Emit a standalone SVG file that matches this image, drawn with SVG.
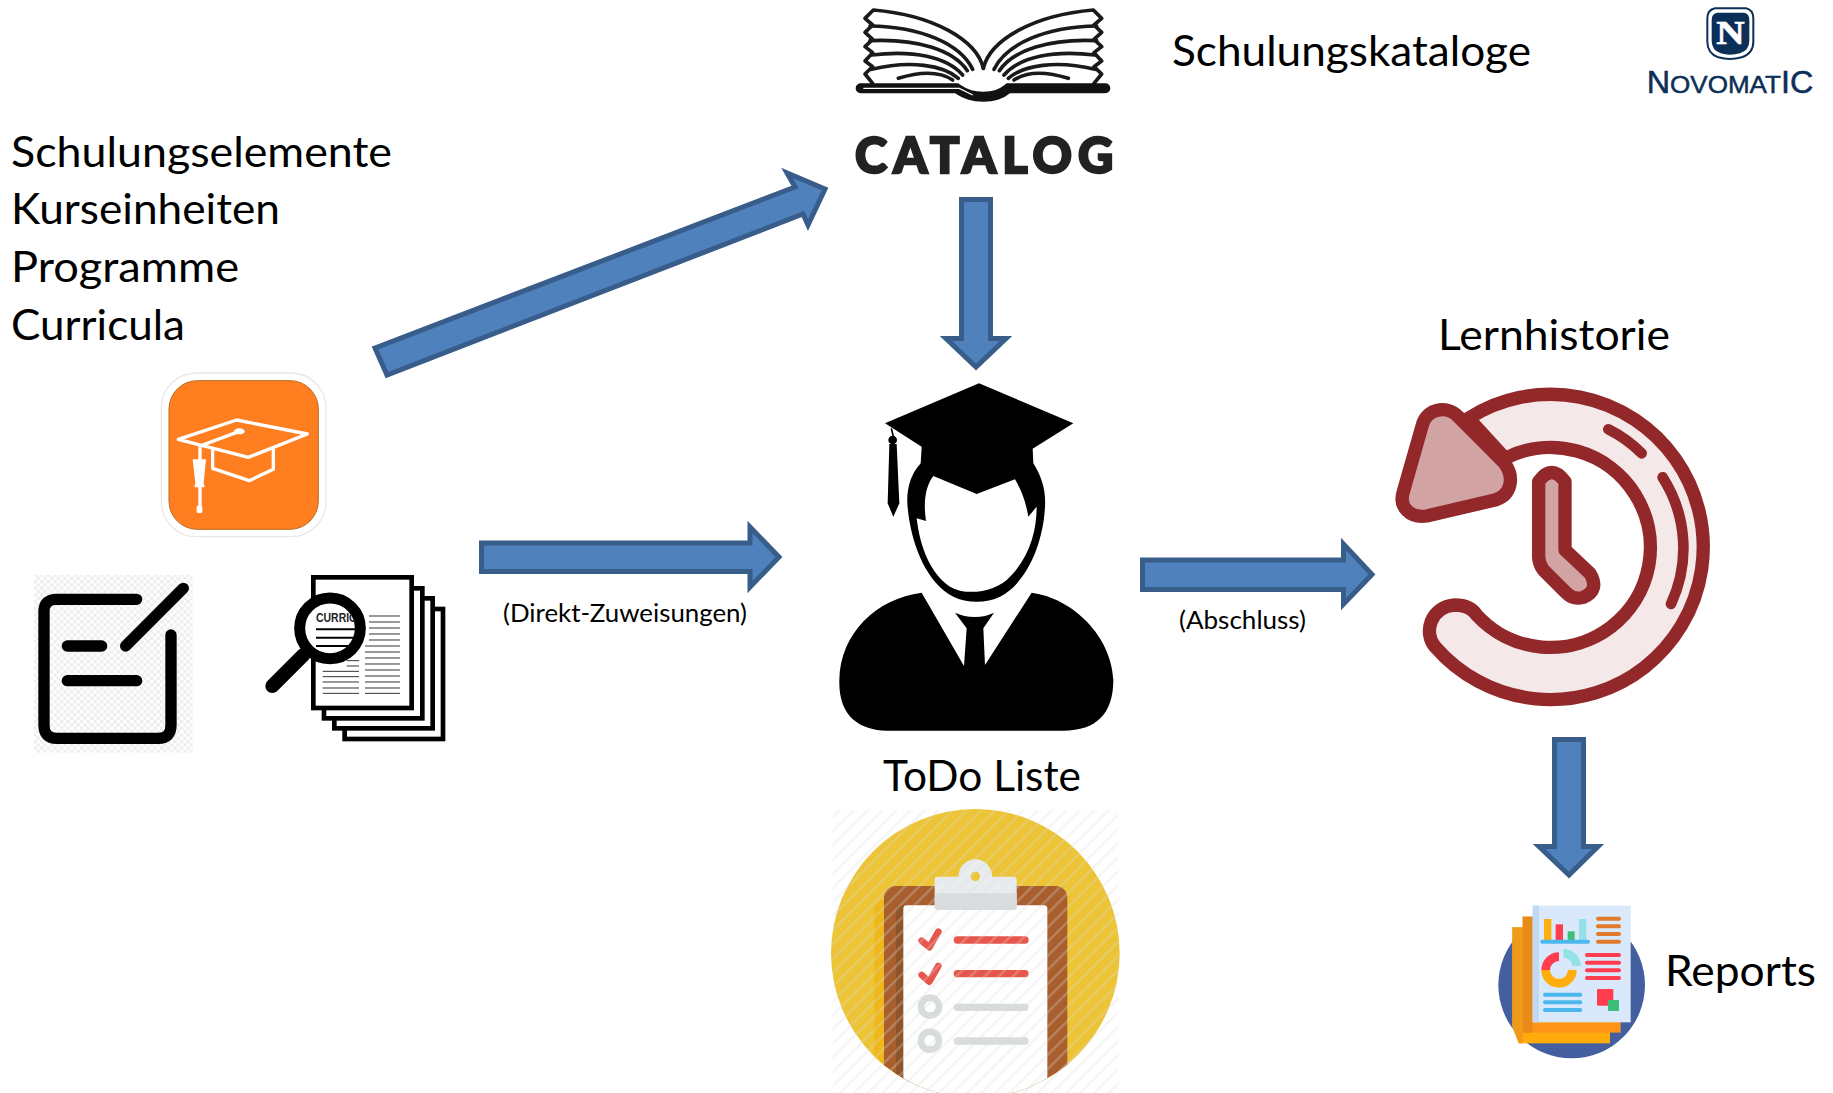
<svg xmlns="http://www.w3.org/2000/svg" xmlns:xlink="http://www.w3.org/1999/xlink" width="1833" height="1093" viewBox="0 0 1833 1093">
<style>
text{font-family:"Lato","Carlito","Liberation Sans",sans-serif;fill:#000}
.lg{font-size:43px}
.sm{font-size:25px}
.arrow{fill:#4f81bd;stroke:#385d8a;stroke-width:5;stroke-linejoin:miter}
.pg{fill:none;stroke:#1a1a1a;stroke-width:11;stroke-linecap:round;stroke-linejoin:round}
.doc{fill:#fff;stroke:#000;stroke-width:14}
.hatch{stroke:#333;stroke-width:3}
.ck{fill:none;stroke:#000;stroke-width:34;stroke-linecap:round;stroke-linejoin:round}
.red{stroke:#92282a;stroke-width:40;stroke-linejoin:round;stroke-linecap:round}
.dash{fill:none;stroke:#92282a;stroke-width:32;stroke-linecap:round}
.w{fill:none;stroke:#fff;stroke-width:10;stroke-linejoin:round;stroke-linecap:round}
.rpt{fill:none;stroke-width:12;stroke-linecap:round}
</style>
<defs>
<pattern id="checker" width="20" height="20" patternUnits="userSpaceOnUse"><rect width="20" height="20" fill="#fff"/><rect width="10" height="10" fill="#eee"/><rect x="10" y="10" width="10" height="10" fill="#eee"/></pattern>
<pattern id="stripes" width="30" height="30" patternUnits="userSpaceOnUse" patternTransform="rotate(45)"><rect width="7" height="30" fill="#ddd" fill-opacity=".3"/></pattern>
<clipPath id="todoClip"><circle cx="466" cy="460" r="433"/></clipPath>
<clipPath id="lensClip"><circle cx="930" cy="805" r="78"/></clipPath>
<clipPath id="rptClip"><path d="M0 0H520V520H140L97 410Z"/></clipPath>
<g id="bookSide">
<path class="pg" d="M490 205C470 120 340 45 160 30L135 55L158 75L135 97L158 118L135 140L158 158L135 183L158 200L135 222L158 250"/>
<path class="pg" d="M458 208C420 130 300 80 150 78"/>
<path class="pg" d="M442 212C400 150 290 115 150 122"/>
<path class="pg" d="M428 225C380 170 280 150 155 165"/>
<path class="pg" d="M415 235C370 195 270 180 155 208"/>
<path class="pg" d="M398 240C360 215 300 215 235 235"/>
</g>
</defs>
<rect width="1833" height="1093" fill="#fff"/>

<g id="connectors">
<polygon class="arrow" points="375,348 795,187 787,173 825,189 808,225 803,214 387,375"/>
<polygon class="arrow" points="961.5,199.5 990.5,199.5 990.5,338.5 1006,338.5 976,367 946,338.5 961.5,338.5"/>
<polygon class="arrow" points="481.5,543 750,543 750,527 779,557 750,587 750,571.5 481.5,571.5"/>
<polygon class="arrow" points="1142.5,560 1343.5,560 1343.5,544 1372,574.5 1343.5,604 1343.5,589.5 1142.5,589.5"/>
<polygon class="arrow" points="1554.5,739.5 1583.5,739.5 1583.5,846.5 1598,846.5 1569,875 1539,846.5 1554.5,846.5"/>
<text class="sm" x="503" y="622" textLength="244" lengthAdjust="spacingAndGlyphs">(Direkt-Zuweisungen)</text>
<text class="sm" x="1179" y="629" textLength="127" lengthAdjust="spacingAndGlyphs">(Abschluss)</text>
</g>

<g id="elements-label">
<text class="lg" x="11" y="167" textLength="381" lengthAdjust="spacingAndGlyphs">Schulungselemente</text>
<text class="lg" x="11" y="224" textLength="269" lengthAdjust="spacingAndGlyphs">Kurseinheiten</text>
<text class="lg" x="11" y="282" textLength="228" lengthAdjust="spacingAndGlyphs">Programme</text>
<text class="lg" x="11" y="340" textLength="174" lengthAdjust="spacingAndGlyphs">Curricula</text>
</g>

<g id="catalog" transform="translate(820 0) scale(.33333)">
<use href="#bookSide"/>
<use href="#bookSide" transform="translate(980 0) scale(-1 1)"/>
<path d="M122 265H410C440 285 460 290 490 290C520 290 540 285 565 265H856" fill="none" stroke="#111" stroke-width="30" stroke-linecap="round"/>
<path d="M130 265H418L458 285" fill="none" stroke="#fff" stroke-width="4"/>
<text x="105" y="518" font-size="146" font-weight="900" textLength="775" lengthAdjust="spacing" style="fill:#222;stroke:#222;stroke-width:7">CATALOG</text>
</g>
<g id="catalog-label"><text class="lg" x="1172" y="66" textLength="359" lengthAdjust="spacingAndGlyphs">Schulungskataloge</text></g>

<g id="novomatic" transform="translate(1600 0) scale(.33333)">
<path d="M345 25H438Q460 30 460 55V125Q460 160 425 172Q390 182 355 172Q322 160 322 125V55Q322 30 345 25Z" fill="#fff" stroke="#0c2f57" stroke-width="6"/>
<path d="M352 38H432Q448 40 448 60V122Q448 150 420 160Q390 168 362 160Q335 150 335 122V60Q335 40 352 38Z" fill="#0c2f57"/>
<text x="349" y="131" font-size="98" font-weight="700" textLength="85" lengthAdjust="spacingAndGlyphs" style="font-family:'Liberation Serif',serif;fill:#fff;stroke:#fff;stroke-width:2">N</text>
<text x="140" y="279" font-size="74" font-weight="400" textLength="500" lengthAdjust="spacingAndGlyphs" style="font-family:'Liberation Sans',sans-serif;fill:#0c2f57;stroke:#0c2f57;stroke-width:1.5"><tspan font-size="92">N</tspan>OVOMAT<tspan font-size="92">IC</tspan></text>
</g>

<g id="cap-app" transform="translate(20 360) scale(.33333)">
<rect x="424" y="39" width="494" height="491" rx="105" fill="#fff" stroke="#e8e8e8" stroke-width="4"/>
<rect x="447" y="62" width="448" height="446" rx="85" fill="#ff7f20" stroke="#b86a20" stroke-width="3"/>
<polygon class="w" points="475,238 650,180 862,222 685,292"/>
<path class="w" d="M578 272V325L688 362L760 328V270"/>
<path class="w" stroke-width="6" d="M540 258L658 214"/>
<ellipse cx="658" cy="214" rx="16" ry="9" fill="#fff"/>
<path class="w" d="M540 262V300M540 380V440"/>
<path d="M518 298H558L551 368L554 382H523L526 368Z" fill="#fff"/>
<rect x="530" y="437" width="17" height="22" rx="4" fill="#fff"/>
</g>

<g id="notepad" transform="translate(20 360) scale(.33333)">
<rect x="42" y="645" width="476" height="533" fill="url(#checker)"/>
<path class="ck" d="M350 718H110Q72 718 72 755V1095Q72 1135 110 1135H415Q453 1135 453 1095V825"/>
<path class="ck" d="M317 858L490 685M142 858H245M142 962H350"/>
</g>

<g id="curricula" transform="translate(20 360) scale(.33333)">
<rect class="doc" x="974" y="747" width="295" height="390"/>
<rect class="doc" x="943" y="715" width="295" height="390"/>
<rect class="doc" x="912" y="685" width="295" height="390"/>
<rect class="doc" x="880" y="652" width="295" height="392"/>
<path class="hatch" d="M1047 768H1140M1047 786H1140M1047 804H1140M1047 822H1140M1047 840H1140M1035 858H1140M1035 876H1140M1035 894H1140M1035 912H1140M1035 930H1140M1035 948H1140M1035 966H1140M1035 984H1140M1035 1000H1140M980 902H1017M980 918H1017M908 934H1017M908 950H1017M908 966H1017M908 984H1017M908 1000H1017"/>
<path d="M850 885L757 978" stroke="#000" stroke-width="42" stroke-linecap="round"/>
<circle cx="930" cy="805" r="91" fill="#fff" stroke="#000" stroke-width="33"/>
<g clip-path="url(#lensClip)">
<text x="888" y="787" font-size="38" font-weight="700" textLength="122" lengthAdjust="spacingAndGlyphs" style="font-family:'Liberation Sans',sans-serif;fill:#222">CURRIC</text>
<path d="M888 808H1005M888 833H1005M888 858H1005" stroke="#000" stroke-width="6"/>
</g>
</g>

<g id="student" transform="translate(820 370) scale(.33333)">
<path d="M477 40L760 160L638 236L640 280C665 320 678 360 675 410C670 520 620 640 540 680C500 700 440 700 400 680C320 640 270 520 262 400C260 350 275 310 302 280L305 230L195 160Z"/>
<path d="M340 318L470 372L585 328C610 370 620 410 625 440L650 410C650 480 630 560 570 620C530 665 440 680 390 650C330 610 300 530 290 445L318 453C310 400 315 350 340 318Z" fill="#fff"/>
<path d="M214 175L220 200" stroke="#000" stroke-width="5"/>
<circle cx="218" cy="210" r="13"/>
<path d="M208 222H230L238 400L220 440L203 400Z"/>
<path d="M305 668C170 685 60 790 58 930C55 1040 120 1080 200 1082H730C830 1082 880 1030 880 930C875 800 760 685 635 668L495 885L490 775L522 728C490 745 440 745 405 728L440 775L432 888Z"/>
</g>
<g id="todo-label"><text class="lg" x="883" y="791" textLength="198" lengthAdjust="spacingAndGlyphs">ToDo Liste</text></g>

<g id="todo" transform="translate(820 800) scale(.33333)">
<g clip-path="url(#todoClip)">
<rect x="0" y="0" width="940" height="900" fill="#ecc435"/>
<rect x="163" y="300" width="120" height="620" rx="30" fill="#efb71c"/>
<rect x="192" y="258" width="550" height="680" rx="35" fill="#a85f2d"/>
<rect x="228" y="316" width="40" height="620" rx="14" fill="#8f5328"/>
<rect x="250" y="316" width="432" height="620" rx="10" fill="#fff"/>
</g>
<circle cx="466" cy="228" r="50" fill="#e9ecee"/>
<rect x="344" y="230" width="246" height="100" rx="10" fill="#e9ecee"/>
<path d="M344 280H590V320Q590 330 580 330H354Q344 330 344 320Z" fill="#d8dcde"/>
<circle cx="466" cy="229" r="14" fill="#ecc435"/>
<path d="M305 422L328 442L355 395M305 525L328 545L355 498" fill="none" stroke="#e6564a" stroke-width="20" stroke-linejoin="round" stroke-linecap="round"/>
<path d="M412 420H615M412 521H615" stroke="#e6564a" stroke-width="22" stroke-linecap="round"/>
<path d="M412 622H615M412 723H615" stroke="#d8dcdc" stroke-width="22" stroke-linecap="round"/>
<circle cx="330" cy="620" r="27" fill="none" stroke="#d8dcdc" stroke-width="20"/>
<circle cx="330" cy="722" r="27" fill="none" stroke="#d8dcdc" stroke-width="20"/>
<rect x="38" y="30" width="857" height="849" fill="url(#stripes)"/>
</g>

<g id="lernhistorie-label"><text class="lg" x="1438" y="350" textLength="232" lengthAdjust="spacingAndGlyphs">Lernhistorie</text></g>
<g id="history" transform="translate(1380 370) scale(.33333)">
<path class="red" fill="#f5e8e8" d="M265 145A458 458 0 1 1 165 830C130 790 150 710 225 705C260 705 280 720 290 735A300 300 0 1 0 375 265Z"/>
<path class="red" fill="#d1a3a3" d="M127 165C140 115 200 105 235 140L372 278C405 320 395 375 345 390L140 438C90 445 55 410 70 365Z"/>
<path class="red" fill="#d1a3a3" d="M476 335Q515 280 555 335V540L630 610Q660 660 610 682Q580 690 560 670L490 600Q476 580 476 560Z"/>
<path class="dash" d="M685 178A391 391 0 0 1 785 250M848 322A395 395 0 0 1 873 702"/>
</g>

<g id="reports-icon" transform="translate(1480 890) scale(.33333)">
<circle cx="275" cy="285" r="220" fill="#445f9f"/>
<g clip-path="url(#rptClip)">
<rect x="97" y="112" width="293" height="348" fill="#ffab0c"/>
<rect x="97" y="112" width="31" height="348" fill="#f09a1c"/>
<rect x="128" y="80" width="294" height="348" fill="#ff9518"/>
<rect x="128" y="80" width="30" height="348" fill="#e88a18"/>
</g>
<rect x="158" y="47" width="294" height="350" fill="#d9e8fa"/>
<rect x="158" y="47" width="19" height="350" fill="#bfd8f3"/>
<rect x="192" y="87" width="22" height="63" fill="#ffae0d"/>
<rect x="227" y="103" width="22" height="47" fill="#ff3d4d"/>
<rect x="263" y="124" width="21" height="26" fill="#3bbf78"/>
<rect x="297" y="87" width="22" height="63" fill="#94e2e6"/>
<path class="rpt" stroke="#4db8ee" stroke-width="13" d="M187 155H324"/>
<path class="rpt" stroke="#e07b2b" d="M354 86H417M354 109H417M354 132H417M354 155H417"/>
<path fill="none" stroke="#ff3d4d" stroke-width="26" d="M197 240A40 40 0 0 1 237 200"/>
<path fill="none" stroke="#94e2e6" stroke-width="26" d="M250 190A40 40 0 0 1 290 228"/>
<path fill="none" stroke="#ffae0d" stroke-width="26" d="M277 240A40 40 0 0 1 197 240"/>
<path class="rpt" stroke="#ff3d4d" d="M321 195H417M321 218H417M321 241H417M321 264H417"/>
<path class="rpt" stroke="#4db8ee" d="M195 314H301M195 337H301M195 360H301"/>
<rect x="351" y="297" width="49" height="50" rx="3" fill="#ff3d4d"/>
<rect x="384" y="330" width="33" height="33" rx="3" fill="#3bbf78"/>
</g>
<g id="reports-label"><text class="lg" x="1665" y="986" textLength="151" lengthAdjust="spacingAndGlyphs">Reports</text></g>
</svg>
